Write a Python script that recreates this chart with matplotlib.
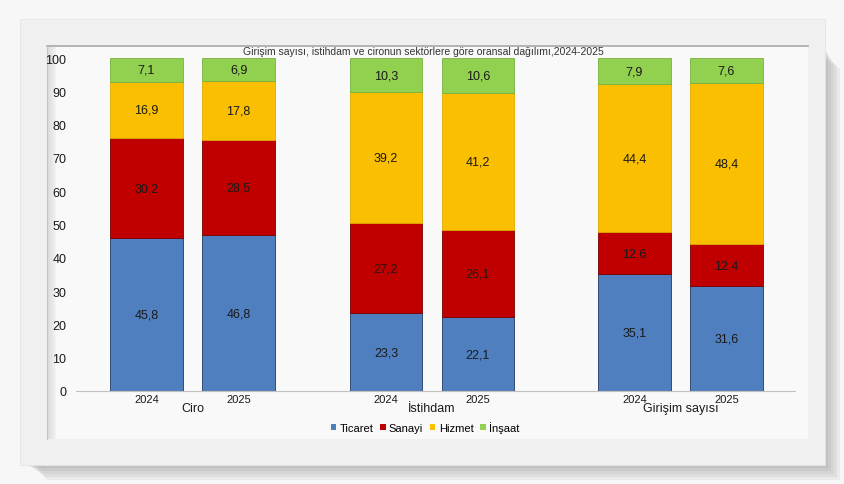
import matplotlib
matplotlib.use("Agg")
import matplotlib.pyplot as plt
from matplotlib.patches import Rectangle, Polygon
import numpy as np

plt.rcParams['font.family'] = ['Liberation Sans Narrow', 'Liberation Sans', 'DejaVu Sans']

title = "Girişim sayısı, istihdam ve cironun sektörlere göre oransal dağılımı,2024-2025"
groups = ["Ciro", "İstihdam", "Girişim sayısı"]
years = ["2024", "2025"]
sectors = ["Ticaret", "Sanayi", "Hizmet", "İnşaat"]

# one value per bar: Ciro 2024, Ciro 2025, İstihdam 2024, İstihdam 2025, Girişim 2024, Girişim 2025
ticaret = [45.8, 46.8, 23.3, 22.1, 35.1, 31.6]
sanayi = [30.2, 28.5, 27.2, 26.1, 12.6, 12.4]
hizmet = [16.9, 17.8, 39.2, 41.2, 44.4, 48.4]
insaat = [7.1, 6.9, 10.3, 10.6, 7.9, 7.6]

colors = ["#4f7fbf", "#c00000", "#f9bf00", "#92d050"]
edges = ["#1f3a66", "#7a0000", "#e0aa00", "#78b040"]

W, H = 845, 485
fig = plt.figure(figsize=(W / 100, H / 100), dpi=100, facecolor="#f7f7f7")


def px(x, y):
    return (x / W, 1 - y / H)


# frame shadow
for i in range(5):
    d = 3 + i * 3
    fig.patches.append(Polygon([px(22 + d, 466), px(825, 466), px(825, 45 + d),
                                px(825 + d, 55 + d), px(825 + d, 466 + d), px(32 + d, 466 + d)],
                               closed=True, transform=fig.transFigure,
                               facecolor="#707070", alpha=0.09, edgecolor="none", zorder=0))
# frame
fig.patches.append(Rectangle(px(20, 466), 805 / W, 446 / H, transform=fig.transFigure,
                             facecolor="#f0f0f0", edgecolor="#e4e4e4", lw=0.6, zorder=1))
# inner panel
fig.patches.append(Rectangle(px(47, 440), 761 / W, 393 / H, transform=fig.transFigure,
                             facecolor="#f9f9f9", edgecolor="none", zorder=2))
for i in range(6):
    fig.patches.append(Rectangle(px(47, 440), (2 + i * 1.5) / W, 393 / H, transform=fig.transFigure,
                                 facecolor="#c8c8c8", alpha=0.12, edgecolor="none", zorder=2))
fig.lines.append(plt.Line2D([47 / W, 808 / W], [1 - 47 / H, 1 - 47 / H], transform=fig.transFigure,
                            color="#a8a8a8", lw=1.2, zorder=3))
fig.lines.append(plt.Line2D([47 / W, 47 / W], [1 - 440 / H, 1 - 47 / H], transform=fig.transFigure,
                            color="#c4c4c4", lw=0.8, zorder=3))

ax = fig.add_axes([76 / W, 1 - 392 / H, (795 - 76) / W, (392 - 59) / H])
ax.set_facecolor("none")
ax.set_zorder(5)

pos = np.array([0, 1, 2.6, 3.6, 5.3, 6.3])
width = 0.79
bottom = np.zeros(6)
for vals, c, e, name in zip([ticaret, sanayi, hizmet, insaat], colors, edges, sectors):
    vals = np.array(vals)
    bars = ax.bar(pos, vals, width, bottom=bottom, color=c, edgecolor=e, linewidth=0.6, label=name)
    for b, v, y0 in zip(bars, vals, bottom):
        ax.text(b.get_x() + b.get_width() / 2, y0 + v / 2, f"{v:.1f}".replace(".", ","),
                ha="center", va="center", fontsize=9, color="#1a1a1a")
    bottom += vals

ax.set_xlim(-0.766, 7.044)
ax.set_ylim(0, 100)
ax.set_yticks(range(0, 101, 10))
ax.tick_params(axis="y", length=0, pad=7, labelsize=9, labelcolor="#1a1a1a")
ax.set_xticks(pos)
ax.set_xticklabels(years * 3)
ax.tick_params(axis="x", length=0, pad=2, labelsize=8, labelcolor="#1a1a1a")
for s in ["top", "right", "left"]:
    ax.spines[s].set_visible(False)
ax.spines["bottom"].set_color("#c0c0c0")
ax.spines["bottom"].set_linewidth(0.8)

for g, i in zip(groups, [0, 2, 4]):
    ax.text((pos[i] + pos[i + 1]) / 2, -3.3, g, ha="center", va="top", fontsize=9,
            color="#1a1a1a", transform=ax.transData)

fig.text(423 / W, 1 - 52 / H, title, ha="center", va="center", fontsize=7.5, color="#333333", zorder=6)

leg = ax.legend(loc="center", bbox_to_anchor=(425 / W, 1 - 428 / H), bbox_transform=fig.transFigure,
                ncol=4, frameon=False, fontsize=8, handlelength=0.5, handleheight=0.5,
                handletextpad=0.3, columnspacing=0.6)
for h in leg.legend_handles:
    h.set_linewidth(0)

fig.savefig("out.png", dpi=100, facecolor=fig.get_facecolor())
